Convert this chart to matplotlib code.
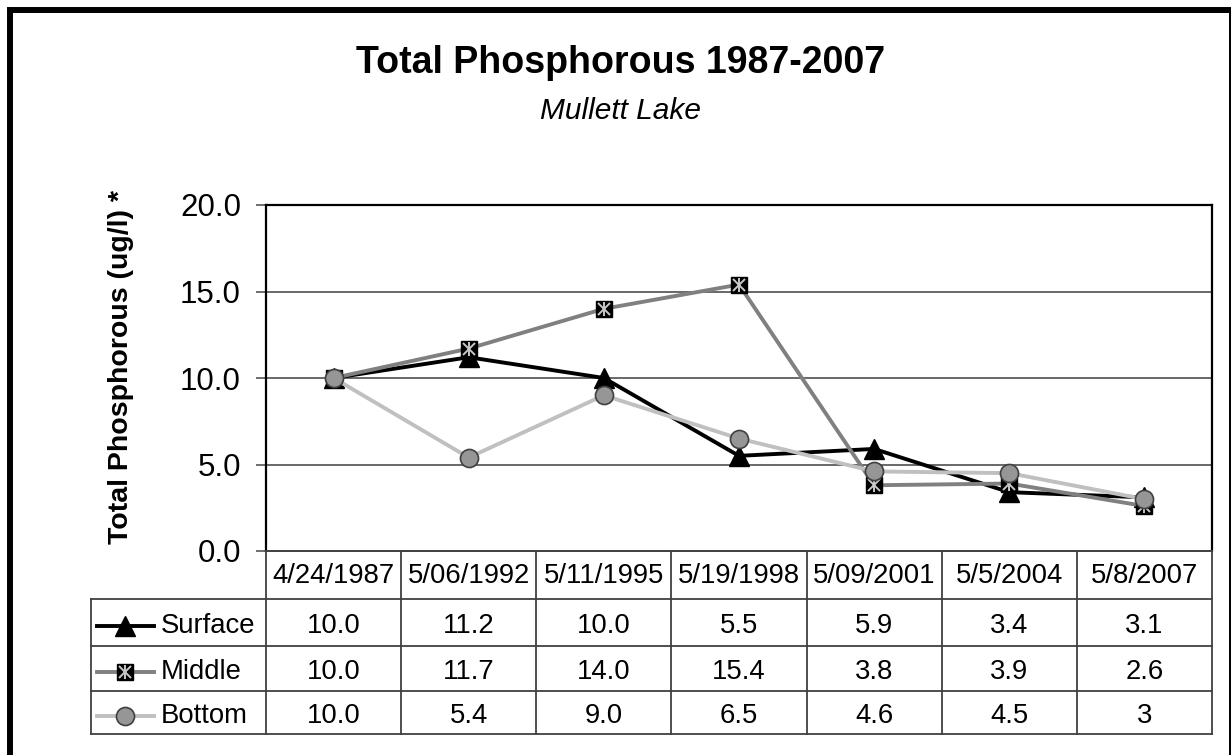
import matplotlib
matplotlib.use("Agg")
import matplotlib.pyplot as plt
from matplotlib.patches import Rectangle
from matplotlib.lines import Line2D

plt.rcParams['font.family'] = ['Liberation Sans', 'DejaVu Sans']

# ---- data ----
dates = ["4/24/1987", "5/06/1992", "5/11/1995", "5/19/1998", "5/09/2001", "5/5/2004", "5/8/2007"]
surface = [10.0, 11.2, 10.0, 5.5, 5.9, 3.4, 3.1]
middle = [10.0, 11.7, 14.0, 15.4, 3.8, 3.9, 2.6]
bottom = [10.0, 5.4, 9.0, 6.5, 4.6, 4.5, 3]
series_names = ["Surface", "Middle", "Bottom"]
yticks = [0.0, 5.0, 10.0, 15.0, 20.0]

W, H = 1231, 755
fig = plt.figure(figsize=(W / 100, H / 100), dpi=100)


def fx(px):
    return px / W


def fy(py):
    return 1 - py / H


# outer frame (partly cropped at right/bottom as in reference)
fig.add_artist(Rectangle((fx(10), fy(765)), fx(1232) - fx(10), fy(10.5) - fy(765),
                         transform=fig.transFigure, fill=False, ec='black', lw=4.3,
                         clip_on=False))

# titles
fig.text(fx(621), fy(63), "Total Phosphorous 1987-2007", ha='center', va='center',
         fontsize=27, fontweight='bold')
fig.text(fx(621), fy(111), "Mullett Lake", ha='center', va='center',
         fontsize=21.5, fontstyle='italic')
fig.text(fx(121), fy(367), "Total Phosphorous (ug/l) *", ha='center', va='center',
         rotation=90, fontsize=20.5, fontweight='bold')

# main plot
L, R, T, B = 266, 1212, 205, 551
ax = fig.add_axes([fx(L), fy(B), fx(R) - fx(L), fy(T) - fy(B)])
n = len(dates)
x = list(range(n))
ax.set_xlim(-0.5, n - 0.5)
ax.set_ylim(0, 20)
ax.set_yticks(yticks)
ax.set_yticklabels([f"{v:.1f}" for v in yticks])
ax.set_xticks([])
ax.tick_params(axis='y', length=7, width=1.2, color='#555555', pad=11, labelsize=22.5)
for yv in yticks[1:-1]:
    ax.axhline(yv, color='#404040', lw=1.1, zorder=1)
for s in ['left', 'top', 'right']:
    ax.spines[s].set_color('black')
    ax.spines[s].set_linewidth(1.6)
ax.spines['bottom'].set_color('#555555')
ax.spines['bottom'].set_linewidth(1.3)

lw = 2.8
ax.plot(x, surface, color='black', lw=lw, marker='^', ms=14, mfc='black', mec='black', zorder=3)
ax.plot(x, middle, color='#808080', lw=lw, marker='s', ms=12, mfc='black', mec='black', zorder=4)
ax.plot(x, middle, ls='none', marker='x', ms=8, mec='#c8c8c8', mew=1.4, zorder=4.1)
ax.plot(x, middle, ls='none', marker='|', ms=10, mec='#c8c8c8', mew=1.4, zorder=4.1)
ax.plot(x, bottom, color='#c0c0c0', lw=lw, marker='o', ms=13, mfc='#969696', mec='#404040',
        mew=1.2, zorder=5)

# data table
TL, TB = 91, 734
row_tops = [551, 599, 646, 691, 734]
colw = (R - L) / n
tax = fig.add_axes([fx(TL), fy(TB), fx(R) - fx(TL), fy(B) - fy(TB)])
tax.set_xlim(TL, R)
tax.set_ylim(TB, B)
tax.axis('off')
gc = '#404040'
glw = 1.3
# horizontal lines
tax.plot([L, R], [row_tops[0], row_tops[0]], color=gc, lw=glw, clip_on=False)
for ry in row_tops[1:]:
    tax.plot([TL, R], [ry, ry], color=gc, lw=glw, clip_on=False)
# vertical lines
for i in range(n + 1):
    xx = L + i * colw
    tax.plot([xx, xx], [row_tops[0], TB], color=gc, lw=glw, clip_on=False)
tax.plot([TL, TL], [row_tops[1], TB], color=gc, lw=glw, clip_on=False)

fs = 19.8
for i, d in enumerate(dates):
    tax.text(L + (i + 0.5) * colw, (row_tops[0] + row_tops[1]) / 2 + 1, d,
             ha='center', va='center', fontsize=fs)
for r, vals in enumerate([surface, middle, bottom]):
    yc = (row_tops[r + 1] + row_tops[r + 2]) / 2
    for i, v in enumerate(vals):
        tax.text(L + (i + 0.5) * colw, yc + 3, str(v), ha='center', va='center', fontsize=fs)
    tax.text(161, yc + 3, series_names[r], ha='left', va='center', fontsize=fs)

# legend keys
keys = [
    dict(color='black', marker='^', ms=14, mfc='black', mec='black'),
    dict(color='#808080', marker='s', ms=12, mfc='black', mec='black'),
    dict(color='#c0c0c0', marker='o', ms=13, mfc='#969696', mec='#404040', mew=1.2),
]
for r, k in enumerate(keys):
    yc = (row_tops[r + 1] + row_tops[r + 2]) / 2 + 3
    tax.add_line(Line2D([97, 125, 154], [yc, yc, yc], lw=lw, markevery=[1], clip_on=False, **k))
    if r == 1:
        tax.add_line(Line2D([125], [yc], ls='none', marker='x', ms=8, mec='#c8c8c8', mew=1.4))
        tax.add_line(Line2D([125], [yc], ls='none', marker='|', ms=10, mec='#c8c8c8', mew=1.4))

fig.savefig("out.png", dpi=100)
